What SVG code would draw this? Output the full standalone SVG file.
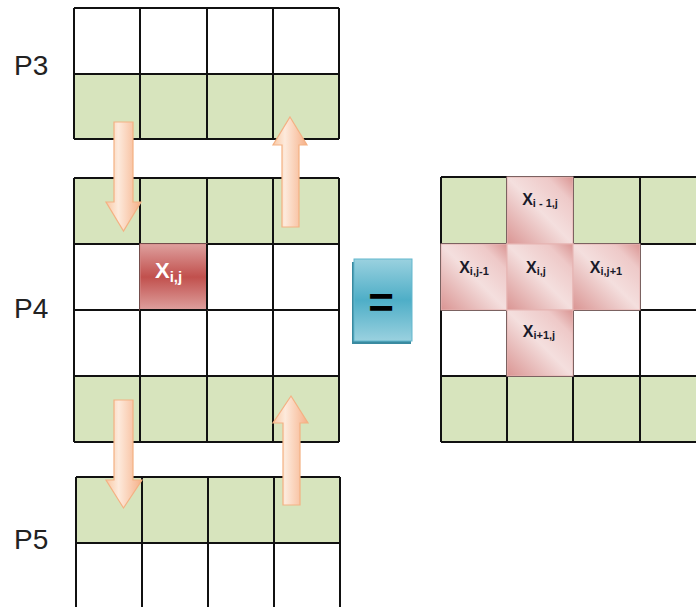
<svg xmlns="http://www.w3.org/2000/svg" width="696" height="607" viewBox="0 0 696 607">
<defs>
<linearGradient id="arrowGrad" x1="0" y1="0" x2="1" y2="0">
<stop offset="0" stop-color="#f9c8a4"/>
<stop offset="0.35" stop-color="#fdeadc"/>
<stop offset="1" stop-color="#f6b088"/>
</linearGradient>
<linearGradient id="redGrad" x1="0" y1="0" x2="0" y2="1">
<stop offset="0" stop-color="#dea09e"/>
<stop offset="0.5" stop-color="#c1504d"/>
<stop offset="1" stop-color="#dea09e"/>
</linearGradient>
<linearGradient id="pinkGrad" x1="0" y1="1" x2="1" y2="0">
<stop offset="0" stop-color="#da9593"/>
<stop offset="0.5" stop-color="#f4dfde"/>
<stop offset="0.8" stop-color="#eec9c8"/>
<stop offset="1" stop-color="#da9593"/>
</linearGradient>
<linearGradient id="blueGrad" x1="0" y1="0" x2="0" y2="1">
<stop offset="0" stop-color="#9ad1df"/>
<stop offset="0.5" stop-color="#4eaec7"/>
<stop offset="1" stop-color="#9ad1df"/>
</linearGradient>
</defs>
<style>
.green{fill:#d7e4bd}
.white{fill:#ffffff}
.grid{fill:none;stroke:#111;stroke-width:2}
.lbl{font-family:"Liberation Sans",Arial,sans-serif;font-size:28px;fill:#222}
.pink{fill:url(#pinkGrad);stroke:#e6b3b1;stroke-width:1}
.nx{font-family:"Liberation Sans",Arial,sans-serif;font-size:16px;font-weight:bold;fill:#1a1a2a;text-anchor:middle}
.nx tspan{font-size:11px}
.arrow{fill:url(#arrowGrad);stroke:#f4b183;stroke-width:1.2}
</style>
<rect width="696" height="607" fill="#fff"/>

<g id="label-P3"><text class="lbl" x="14" y="75">P3</text></g>
<g id="label-P4"><text class="lbl" x="14" y="318">P4</text></g>
<g id="label-P5"><text class="lbl" x="14" y="549">P5</text></g>

<g id="grid-P3">
<rect class="white" x="74" y="8" width="265" height="66"/>
<rect class="green" x="74" y="74" width="265" height="65"/>
<path class="grid" d="M74 8H339M74 74H339M74 139H339M74 8V139M140 8V139M207 8V139M273 8V139M339 8V139"/>
</g>

<g id="grid-P4">
<rect class="green" x="74" y="178" width="265" height="66"/>
<rect class="white" x="74" y="244" width="265" height="132"/>
<rect class="green" x="74" y="376" width="265" height="66"/>
<path class="grid" d="M74 178H339M74 244H339M74 310H339M74 376H339M74 442H339M74 178V442M140 178V442M207 178V442M273 178V442M339 178V442"/>
</g>

<g id="cell-Xij">
<rect x="140" y="244" width="67" height="66" fill="url(#redGrad)" stroke="#d58a88" stroke-width="1"/>
<path class="grid" d="M207 244V310M140 310H207"/>
<text x="155" y="278" font-family="'Liberation Sans',Arial,sans-serif" font-size="22" font-weight="bold" fill="#fff">X<tspan font-size="15" dy="4">i,j</tspan></text>
</g>

<g id="grid-P5">
<rect class="green" x="76" y="477" width="264" height="66"/>
<rect class="white" x="76" y="543" width="264" height="70"/>
<path class="grid" d="M76 477H340M76 543H340M76 477V613M142 477V613M208 477V613M274 477V613M340 477V613"/>
</g>

<g id="equals">
<rect x="352" y="262" width="59" height="82" fill="#3a8aa0"/>
<rect x="354" y="259" width="58" height="82" fill="url(#blueGrad)" stroke="#63b7cd" stroke-width="1"/>
<text x="381" y="318" font-family="'Liberation Sans',Arial,sans-serif" font-size="44" font-weight="bold" fill="#000" text-anchor="middle">=</text>
</g>

<g id="grid-result">
<rect class="green" x="441" y="177" width="265" height="67"/>
<rect class="white" x="441" y="244" width="265" height="132"/>
<rect class="green" x="441" y="376" width="265" height="66"/>
<path class="grid" d="M441 177H706M441 244H706M441 310H706M441 376H706M441 442H706M441 177V442M507 177V442M573 177V442M640 177V442"/>
</g>

<g id="cell-up"><rect class="pink" x="507" y="177" width="66" height="67"/><text class="nx" x="540" y="205">X<tspan dy="2">i - 1,j</tspan></text></g>
<g id="cell-left"><rect class="pink" x="441" y="244" width="66" height="66"/><text class="nx" x="474" y="273">X<tspan dy="2">i,j-1</tspan></text></g>
<g id="cell-center"><rect class="pink" x="507" y="244" width="66" height="66"/><text class="nx" x="536" y="273">X<tspan dy="2">i,j</tspan></text></g>
<g id="cell-right"><rect class="pink" x="573" y="244" width="67" height="66"/><text class="nx" x="606" y="273">X<tspan dy="2">i,j+1</tspan></text></g>
<g id="cell-down"><rect class="pink" x="507" y="310" width="66" height="66"/><text class="nx" x="539" y="337">X<tspan dy="2">i+1,j</tspan></text></g>

<g id="connectors">
<polygon class="arrow" points="114,122 133,122 133,202 141,202 123.5,231 106,202 114,202"/>
<polygon class="arrow" points="290,117 307,145 299,145 299,227 282,227 282,145 273,145"/>
<polygon class="arrow" points="114,400 133,400 133,480 142,480 123.5,508 106,480 114,480"/>
<polygon class="arrow" points="291,396 308,423 300,423 300,505 283,505 283,423 273,423"/>
</g>
</svg>
